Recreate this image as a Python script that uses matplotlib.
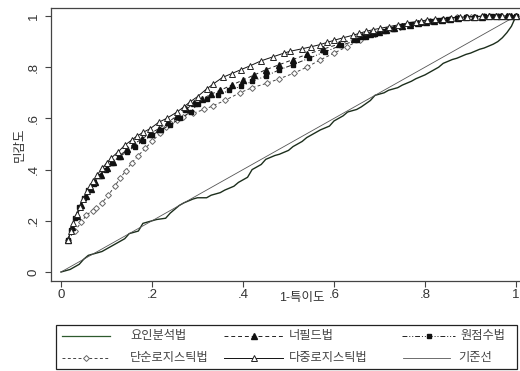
import matplotlib
matplotlib.use("Agg")
import matplotlib.pyplot as plt
from matplotlib.lines import Line2D
from matplotlib.patches import Rectangle

plt.rcParams['font.family'] = ['Liberation Sans', 'Noto Sans CJK KR', 'DejaVu Sans']

# ---- data ----
x_fa = [0, .01, .02, .03, .04, .05, .06, .08, .09, .11, .12, .14, .15, .17, .18, .20, .21, .23, .24, .26,
        .27, .29, .30, .32, .33, .35, .36, .38, .39, .41, .42, .44, .45, .47, .48, .50, .51, .53, .54, .56,
        .57, .59, .60, .62, .63, .65, .66, .68, .69, .71, .72, .74, .75, .77, .78, .80, .81, .83, .84, .86,
        .87, .89, .90, .92, .93, .95, .96, .97, .98, .99, 1.0]
y_fa = [0, .005, .01, .02, .03, .05, .065, .075, .08, .10, .11, .13, .15, .16, .19, .20, .205, .21, .23, .26,
        .27, .285, .29, .29, .30, .31, .32, .335, .35, .37, .40, .42, .44, .455, .46, .475, .49, .51, .525, .545,
        .555, .57, .59, .61, .625, .635, .645, .67, .69, .70, .71, .72, .73, .745, .755, .77, .78, .80, .815, .83,
        .835, .85, .855, .87, .875, .89, .90, .915, .935, .96, 1.0]

x_nf = [0.015, 0.025, 0.035, 0.045, 0.055, 0.065, 0.075, 0.088, 0.100, 0.115, 0.130, 0.145, 0.160, 0.178,
        0.195, 0.215, 0.235, 0.255, 0.275, 0.292, 0.310, 0.330, 0.350, 0.375, 0.400, 0.425, 0.450, 0.480,
        0.510, 0.540, 0.575, 0.610, 0.645, 0.662, 0.680, 0.698, 0.715, 0.732, 0.750, 0.768, 0.785, 0.802,
        0.820, 0.838, 0.855, 0.872, 0.890, 0.908, 0.925, 0.940, 0.955, 0.968, 0.980, 0.990, 1.0]
y_nf = [0.125, 0.175, 0.22, 0.26, 0.295, 0.325, 0.35, 0.38, 0.405, 0.43, 0.455, 0.48, 0.50, 0.52, 0.54,
        0.56, 0.585, 0.61, 0.635, 0.66, 0.675, 0.695, 0.71, 0.73, 0.75, 0.77, 0.79, 0.81, 0.83, 0.85, 0.87,
        0.89, 0.91, 0.92, 0.93, 0.938, 0.945, 0.953, 0.96, 0.966, 0.972, 0.977, 0.982, 0.986, 0.99, 0.993,
        0.995, 0.997, 0.998, 0.999, 1.0, 1.0, 1.0, 1.0, 1.0]

x_rs = [0.015, 0.022, 0.030, 0.040, 0.050, 0.060, 0.072, 0.085, 0.098, 0.112, 0.128, 0.145, 0.162, 0.180,
        0.200, 0.220, 0.240, 0.262, 0.285, 0.300, 0.320, 0.345, 0.370, 0.395, 0.420, 0.450, 0.480, 0.510,
        0.545, 0.580, 0.615, 0.650, 0.670, 0.690, 0.710, 0.730, 0.750, 0.770, 0.790, 0.810, 0.830, 0.850,
        0.870, 0.890, 0.910, 0.930, 0.948, 0.965, 0.982, 1.0]
y_rs = [0.125, 0.165, 0.21, 0.255, 0.29, 0.32, 0.345, 0.375, 0.40, 0.425, 0.45, 0.47, 0.49, 0.51, 0.535,
        0.555, 0.575, 0.60, 0.625, 0.655, 0.675, 0.69, 0.71, 0.725, 0.745, 0.765, 0.79, 0.81, 0.835, 0.86,
        0.885, 0.905, 0.918, 0.93, 0.94, 0.95, 0.959, 0.967, 0.974, 0.98, 0.985, 0.99, 0.993, 0.996, 0.998,
        0.999, 1.0, 1.0, 1.0, 1.0]

x_sl = [0.015, 0.030, 0.045, 0.056, 0.070, 0.078, 0.090, 0.104, 0.118, 0.130, 0.142, 0.155, 0.170, 0.185,
        0.200, 0.218, 0.230, 0.240, 0.255, 0.269, 0.290, 0.315, 0.335, 0.360, 0.393, 0.420, 0.452, 0.480,
        0.511, 0.540, 0.569, 0.600, 0.628, 0.657, 0.690, 0.720, 0.745, 0.780, 0.810, 0.840, 0.870, 0.900,
        0.930, 0.960, 0.985, 1.0]
y_sl = [0.125, 0.16, 0.195, 0.223, 0.24, 0.249, 0.27, 0.30, 0.335, 0.366, 0.395, 0.425, 0.455, 0.483,
        0.51, 0.542, 0.565, 0.581, 0.595, 0.607, 0.62, 0.635, 0.65, 0.67, 0.70, 0.72, 0.737, 0.755, 0.776,
        0.80, 0.828, 0.855, 0.880, 0.906, 0.93, 0.948, 0.958, 0.972, 0.982, 0.99, 0.995, 0.998, 1.0, 1.0,
        1.0, 1.0]

x_ml = [0.015, 0.022, 0.027, 0.035, 0.042, 0.049, 0.057, 0.064, 0.071, 0.080, 0.090, 0.100, 0.110, 0.126,
        0.140, 0.155, 0.166, 0.180, 0.196, 0.215, 0.232, 0.255, 0.270, 0.284, 0.300, 0.320, 0.335, 0.355,
        0.375, 0.395, 0.415, 0.440, 0.465, 0.490, 0.503, 0.530, 0.550, 0.569, 0.585, 0.600, 0.620, 0.642,
        0.655, 0.670, 0.685, 0.701, 0.720, 0.740, 0.760, 0.780, 0.792, 0.804, 0.822, 0.840, 0.858, 0.877,
        0.893, 0.910, 0.925, 0.940, 0.955, 0.970, 0.985, 1.0]
y_ml = [0.125, 0.16, 0.19, 0.225, 0.255, 0.285, 0.315, 0.335, 0.355, 0.38, 0.405, 0.425, 0.445, 0.47,
        0.495, 0.515, 0.53, 0.545, 0.56, 0.585, 0.60, 0.625, 0.645, 0.665, 0.685, 0.715, 0.735, 0.76, 0.775,
        0.79, 0.805, 0.825, 0.84, 0.855, 0.862, 0.872, 0.880, 0.888, 0.897, 0.905, 0.915, 0.925, 0.932, 0.94,
        0.946, 0.952, 0.958, 0.965, 0.972, 0.978, 0.981, 0.984, 0.987, 0.99, 0.993, 0.995, 0.997, 0.998,
        0.999, 1.0, 1.0, 1.0, 1.0, 1.0]

x_ref = [0, 1]
y_ref = [0, 1]

labels = ['요인분석법', '너필드법', '원점수법', '단순로지스틱법', '다중로지스틱법', '기준선']
xticks = [0, .2, .4, .6, .8, 1]
xticklabels = ['0', '.2', '.4', '.6', '.8', '1']
yticks = [0, .2, .4, .6, .8, 1]
yticklabels = ['0', '.2', '.4', '.6', '.8', '1']

# ---- figure ----
W, H = 520, 371
fig = plt.figure(figsize=(W / 100, H / 100), dpi=100)
ax = fig.add_axes([51 / W, 1 - 281 / H, (523 - 51) / W, (281 - 8) / H])

ms = 3.4
lw = 0.7
styles = {
    'fa': dict(color='#1c2e1c', lw=1.0),
    'ref': dict(color='#555555', lw=0.6),
    'sl': dict(color='#444444', lw=lw, ls=(0, (3, 2.5)), marker='D', ms=3.0,
               mfc='white', mec='#666666', mew=0.7),
    'rs': dict(color='#222222', lw=lw, ls=(0, (5, 2, 1, 2, 1, 2)), marker='s', ms=ms,
               mfc='#111111', mec='#111111'),
    'nf': dict(color='#222222', lw=lw, ls=(0, (4, 3)), marker='^', ms=ms + 0.6,
               mfc='#111111', mec='#111111'),
    'ml': dict(color='#111111', lw=lw, ls='-', marker='^', ms=ms + 0.8,
               mfc='white', mec='#222222', mew=0.7),
}
ax.plot(x_fa, y_fa, **styles['fa'])
ax.plot(x_ref, y_ref, **styles['ref'])
ax.plot(x_sl, y_sl, **styles['sl'])
ax.plot(x_rs, y_rs, **styles['rs'])
ax.plot(x_nf, y_nf, **styles['nf'])
ax.plot(x_ml, y_ml, **styles['ml'])

ax.set_xlim((51 - 61) / 455, (523 - 61) / 455)
ax.set_ylim((272 - 281) / 256, (272 - 8) / 256)

ax.set_xticks(xticks)
ax.set_xticklabels(xticklabels)
ax.set_yticks(yticks)
ax.set_yticklabels(yticklabels, rotation=90, va='center')
ax.tick_params(axis='both', direction='out', length=4, width=0.8, color='#444444',
               labelsize=9.5, labelcolor='#333333')
ax.tick_params(axis='x', pad=2)
ax.tick_params(axis='y', pad=4)
for s in ['left', 'bottom', 'top']:
    ax.spines[s].set_color('#444444')
    ax.spines[s].set_linewidth(0.9)
ax.spines['right'].set_visible(False)

fig.text(20 / W, 1 - 145 / H, '민감도', rotation=90, ha='center', va='center',
         fontsize=9, color='#333333')
fig.text(302 / W, 1 - 298 / H, '1-특이도', ha='center', va='center',
         fontsize=9, color='#333333')

# ---- legend, drawn by hand in figure pixels ----
def fx(px):
    return px / W


def fy(py):
    return 1 - py / H


fig.add_artist(Rectangle((fx(56), fy(369)), fx(517) - fx(56), fy(325) - fy(369),
                         transform=fig.transFigure, fill=False, edgecolor='#222222', lw=0.9))

leg_items = [
    ('fa', labels[0], 62, 110, 130, 336),
    ('nf', labels[1], 224, 283, 289, 336),
    ('rs', labels[2], 402, 455, 460, 336),
    ('sl', labels[3], 62, 110, 130, 358),
    ('ml', labels[4], 224, 283, 289, 358),
    ('ref', labels[5], 403, 450, 458, 358),
]
for key, lab, x0, x1, xt, yy in leg_items:
    st = dict(styles[key])
    mk = st.pop('marker', None)
    mst = {k: st.pop(k) for k in ['ms', 'mfc', 'mec', 'mew'] if k in st}
    if key == 'fa':
        st['color'] = '#2e5a2e'
        st['lw'] = 0.9
    fig.add_artist(Line2D([fx(x0), fx(x1)], [fy(yy), fy(yy)], transform=fig.transFigure, **st))
    if mk is not None:
        fig.add_artist(Line2D([fx((x0 + x1) / 2)], [fy(yy)], transform=fig.transFigure,
                              marker=mk, ls='none', **mst))
    fig.text(fx(xt), fy(yy), lab, ha='left', va='center', fontsize=8.8, color='#444444')

fig.savefig('out.png', dpi=100, facecolor='white')
